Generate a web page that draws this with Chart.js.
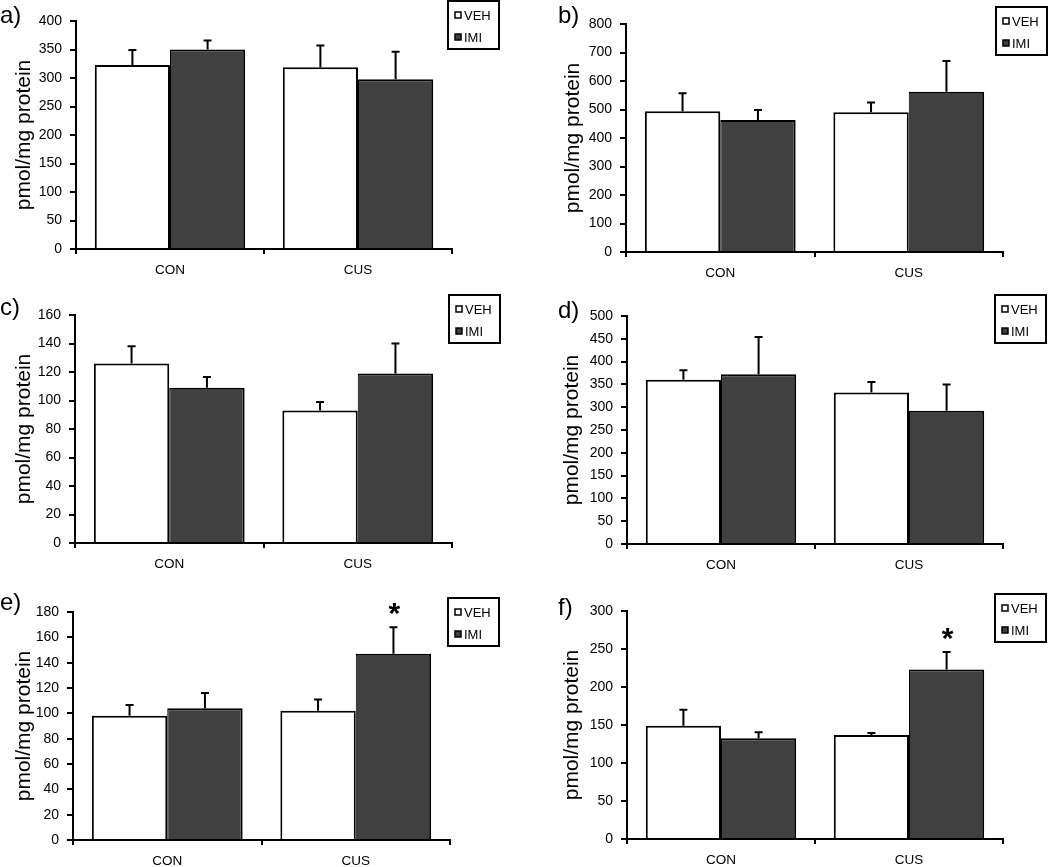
<!DOCTYPE html>
<html>
<head>
<meta charset="utf-8">
<script src="https://cdn.jsdelivr.net/npm/chart.js@4.4.0/dist/chart.umd.min.js"></script>
<style>
    html, body { margin: 0; padding: 0; background: #fff; }
    #wrap { position: relative; width: 1050px; height: 867px; overflow: hidden; }
    #wrap canvas { position: absolute; }
</style>
</head>
<body>
<div id="wrap"></div>
<script>
// ---- data ----
const groups = ['CON', 'CUS'];
const seriesNames = ['VEH', 'IMI'];
const panelLetters = ['a)', 'b)', 'c)', 'd)', 'e)', 'f)'];
const yAxisTitle = 'pmol/mg protein';
const yMax = [400, 800, 160, 500, 180, 300];
const yStep = [50, 100, 20, 50, 20, 50];

const vehMeans  = [[323, 319], [494, 490], [126, 93], [360, 332], [98, 102], [149, 137]];
const vehErrors = [[26, 38], [63, 35], [12, 6], [21, 23], [8.5, 9], [21, 2.5]];
const imiMeans  = [[350, 298], [463, 562], [109, 119], [372, 292], [104, 147], [132.5, 223]];
const imiErrors = [[16, 48], [35, 108], [7.5, 21], [82, 58], [12, 21], [8, 23]];
const imiStars  = [[0, 0], [0, 0], [0, 0], [0, 0], [0, 1], [0, 1]];

// ---- layout for each panel (canvas px) ----
const panelLayout = [
    { x: 0,   y: 0,   w: 525, h: 290, plot: { l: 76,  r: 452, t: 21, b: 249 }, padL: 12, legend: [448, 1],  letter: [0, 23] },
    { x: 525, y: 0,   w: 525, h: 290, plot: { l: 101, r: 478, t: 24, b: 252 }, padL: 36, legend: [471, 7],  letter: [33, 23] },
    { x: 0,   y: 290, w: 525, h: 287, plot: { l: 75,  r: 452, t: 25, b: 253 }, padL: 12, legend: [449, 5],  letter: [0, 25] },
    { x: 525, y: 290, w: 525, h: 287, plot: { l: 102, r: 478, t: 26, b: 254 }, padL: 35, legend: [470, 5],  letter: [33, 28] },
    { x: 0,   y: 577, w: 525, h: 290, plot: { l: 73,  r: 450, t: 35, b: 263 }, padL: 12, legend: [448, 21], letter: [0, 33] },
    { x: 525, y: 577, w: 525, h: 290, plot: { l: 102, r: 478, t: 34, b: 262 }, padL: 35, legend: [470, 17], letter: [33, 38] }
];

const FONT = 'Arial, "Liberation Sans", sans-serif';
const IMI_FILL = '#404040';

// error bars (upward only) + significance stars
const errorBarPlugin = {
    id: 'errorBars',
    afterDatasetsDraw(chart) {
        const ctx = chart.ctx;
        const y = chart.scales.y;
        ctx.save();
        ctx.strokeStyle = '#000';
        ctx.fillStyle = '#000';
        ctx.lineWidth = 2;
        chart.data.datasets.forEach((ds, i) => {
            const meta = chart.getDatasetMeta(i);
            meta.data.forEach((bar, j) => {
                const top = y.getPixelForValue(ds.data[j] + ds.errors[j]);
                ctx.beginPath();
                ctx.moveTo(bar.x, bar.y);
                ctx.lineTo(bar.x, top);
                ctx.moveTo(bar.x - 4, top);
                ctx.lineTo(bar.x + 4, top);
                ctx.stroke();
                if (ds.stars && ds.stars[j]) {
                    ctx.font = 'bold 30px ' + FONT;
                    ctx.textAlign = 'center';
                    ctx.textBaseline = 'alphabetic';
                    ctx.fillText('*', bar.x + 1, top - 4);
                }
            });
        });
        ctx.restore();
    }
};

// boxed legend + panel letter
const panelDecorPlugin = {
    id: 'panelDecor',
    afterDraw(chart, args, opts) {
        const ctx = chart.ctx;
        const [lx, ly] = opts.legend;
        ctx.save();
        ctx.lineWidth = 2;
        ctx.strokeStyle = '#000';
        ctx.fillStyle = '#fff';
        ctx.fillRect(lx, ly, 51, 48);
        ctx.strokeRect(lx, ly, 51, 48);
        chart.data.datasets.forEach((ds, i) => {
            const cy = ly + 14 + i * 22;
            ctx.fillStyle = ds.backgroundColor;
            ctx.lineWidth = 1.5;
            ctx.fillRect(lx + 7, cy - 3, 6, 6);
            ctx.strokeRect(lx + 7, cy - 3, 6, 6);
            ctx.fillStyle = '#000';
            ctx.font = '13px ' + FONT;
            ctx.textAlign = 'left';
            ctx.textBaseline = 'middle';
            ctx.fillText(ds.label, lx + 16, cy + 1);
        });
        ctx.font = '24px ' + FONT;
        ctx.textAlign = 'left';
        ctx.textBaseline = 'alphabetic';
        ctx.fillStyle = '#000';
        ctx.fillText(opts.letter, opts.letterPos[0], opts.letterPos[1]);
        ctx.restore();
    }
};

function buildPanel(p) {
    const L = panelLayout[p];
    const canvas = document.createElement('canvas');
    canvas.width = L.w;
    canvas.height = L.h;
    canvas.style.left = L.x + 'px';
    canvas.style.top = L.y + 'px';
    document.getElementById('wrap').appendChild(canvas);

    new Chart(canvas, {
        type: 'bar',
        data: {
            labels: groups,
            datasets: [
                {
                    label: seriesNames[0],
                    data: vehMeans[p],
                    errors: vehErrors[p],
                    backgroundColor: '#ffffff',
                    borderColor: '#000',
                    borderWidth: { top: 2, left: 2, right: 2, bottom: 0 },
                    borderSkipped: 'start'
                },
                {
                    label: seriesNames[1],
                    data: imiMeans[p],
                    errors: imiErrors[p],
                    stars: imiStars[p],
                    backgroundColor: IMI_FILL,
                    borderColor: '#000',
                    borderWidth: { top: 2, left: 1, right: 2, bottom: 0 },
                    borderSkipped: 'start'
                }
            ]
        },
        options: {
            responsive: false,
            animation: false,
            categoryPercentage: 0.8,
            barPercentage: 1.0,
            layout: {
                padding: { left: L.padL, right: L.w - L.plot.r, top: L.plot.t, bottom: 0 }
            },
            plugins: {
                legend: { display: false },
                tooltip: { enabled: false },
                panelDecor: { legend: L.legend, letter: panelLetters[p], letterPos: L.letter }
            },
            scales: {
                x: {
                    grid: { drawOnChartArea: false, tickLength: 5, color: '#000', lineWidth: 2 },
                    border: { color: '#000', width: 2 },
                    ticks: { color: '#000', font: { family: FONT, size: 13.5 }, padding: 8 },
                    afterFit: (s) => { s.height = L.h - L.plot.b; }
                },
                y: {
                    min: 0,
                    max: yMax[p],
                    ticks: { stepSize: yStep[p], autoSkip: false, color: '#000', font: { family: FONT, size: 14 }, padding: 8 },
                    grid: { drawOnChartArea: false, tickLength: 6, color: '#000', lineWidth: 2 },
                    border: { color: '#000', width: 2 },
                    title: { display: true, text: yAxisTitle, color: '#000', font: { family: FONT, size: 21 }, padding: 0 },
                    afterFit: (s) => { s.width = L.plot.l - L.padL; }
                }
            }
        },
        plugins: [errorBarPlugin, panelDecorPlugin]
    });
}

document.addEventListener('DOMContentLoaded', () => {
    for (let p = 0; p < panelLayout.length; p++) buildPanel(p);
});
</script>
</body>
</html>
